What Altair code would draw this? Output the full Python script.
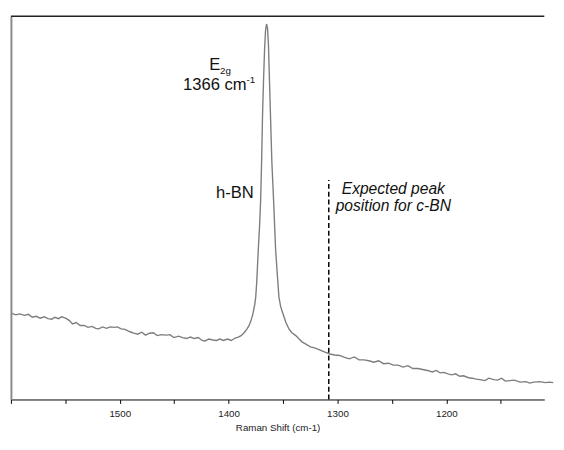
import altair as alt
import pandas as pd

# Raman spectrum (x: Raman shift in cm-1, y: intensity in arbitrary units)
shift = [
    1599.1, 1595.5, 1591.9, 1587.5, 1583.9, 1580.3, 1576.7, 1573.1, 1569.5, 1565.9,
    1562.4, 1559.7, 1556.1, 1553.4, 1549.8, 1546.2, 1543.5, 1540.0, 1536.4, 1532.8,
    1529.2, 1525.6, 1522.0, 1519.4, 1515.8, 1512.2, 1508.6, 1505.0, 1502.3, 1498.7,
    1495.2, 1490.7, 1487.1, 1483.5, 1479.9, 1476.3, 1472.8, 1469.2, 1465.6, 1462.0,
    1457.5, 1453.9, 1450.4, 1445.9, 1442.3, 1438.7, 1435.1, 1431.5, 1427.9, 1424.4,
    1421.7, 1418.1, 1414.5, 1410.9, 1408.2, 1404.6, 1401.1, 1397.5, 1393.9, 1391.2,
    1388.5, 1385.8, 1383.1, 1381.4, 1379.6, 1377.8, 1376.0, 1375.1, 1374.2, 1372.7,
    1371.5, 1370.6, 1369.7, 1368.8, 1367.9, 1367.0, 1366.1, 1365.2, 1364.3, 1363.4,
    1362.5, 1361.6, 1360.3, 1358.7, 1357.8, 1356.9, 1355.4, 1353.8, 1352.2, 1350.3,
    1347.3, 1344.6, 1341.9, 1338.3, 1335.7, 1332.3, 1329.4, 1324.9, 1320.4, 1315.9,
    1311.5, 1307.0, 1302.5, 1298.0, 1293.5, 1289.1, 1284.6, 1280.1, 1275.6, 1271.1,
    1266.7, 1262.2, 1257.7, 1253.2, 1248.7, 1244.2, 1239.8, 1235.3, 1230.8, 1226.3,
    1221.8, 1217.4, 1212.9, 1209.3, 1205.7, 1202.1, 1198.5, 1195.0, 1191.4, 1187.8,
    1184.2, 1179.7, 1176.1, 1172.6, 1169.0, 1164.5, 1160.9, 1156.4, 1152.8, 1149.3,
    1145.7, 1142.1, 1137.6, 1132.2, 1126.9, 1123.3, 1119.7, 1114.3, 1108.9, 1105.3,
    1101.8,
]
intensity = [
    89.0, 87.5, 88.5, 87.0, 88.0, 85.0, 86.0, 84.0, 85.5, 83.5,
    83.0, 85.0, 83.5, 85.5, 84.0, 81.5, 78.0, 79.5, 76.5, 76.5,
    74.5, 75.5, 73.5, 73.0, 75.0, 73.5, 75.0, 74.5, 75.0, 73.0,
    72.5, 70.0, 68.5, 67.5, 69.5, 66.5, 68.5, 69.0, 66.0, 67.0,
    66.5, 67.0, 64.0, 65.5, 64.0, 63.0, 64.5, 63.0, 64.0, 61.0,
    60.5, 62.5, 61.5, 61.0, 62.5, 61.0, 62.5, 61.0, 63.5, 64.5,
    66.0, 69.0, 73.0, 76.0, 81.0, 88.0, 98.0, 106.0, 121.0, 156.0,
    181.0, 206.0, 246.0, 296.0, 331.0, 361.0, 381.0, 388.0, 384.0, 366.0,
    331.0, 296.0, 246.0, 206.0, 181.0, 156.0, 131.0, 106.0, 96.0, 89.3,
    79.3, 73.0, 69.0, 66.0, 63.0, 59.3, 57.5, 54.3, 53.0, 51.0,
    49.0, 47.0, 46.0, 45.5, 43.5, 42.0, 44.0, 41.0, 41.0, 40.0,
    38.5, 40.0, 37.0, 37.5, 35.5, 35.5, 33.5, 35.0, 32.0, 32.0,
    31.0, 30.0, 28.5, 30.0, 27.5, 28.0, 26.5, 25.5, 26.5, 24.0,
    24.5, 22.5, 22.0, 21.0, 20.5, 19.5, 22.0, 20.5, 20.0, 22.0,
    19.0, 19.5, 20.0, 18.0, 18.5, 17.0, 18.0, 18.5, 17.5, 18.0,
    17.5,
]

tick_values = [1600, 1550, 1500, 1450, 1400, 1350, 1300, 1250, 1200, 1150]

cbn_shift = [1308]
cbn_top = [226.7]

# annotation anchors (data coordinates)
label_text = ["E", "1366 cm", "h-BN"]
label_shift = [1412.7, 1412.7, 1394.3]
label_int = [345.6, 324.5, 213.6]

small_text = ["2g", "-1"]
small_shift = [1402.9, 1379.6]
small_int = [339.6, 330.5]

italic_text = ["Expected peak", "position for c-BN"]
italic_shift = [1248.7, 1248.7]
italic_int = [217.6, 199.5]

W, H = 547, 393
FONT = "Liberation Sans"

df = pd.DataFrame({"shift": shift, "intensity": intensity})
cbn = pd.DataFrame({"shift": cbn_shift, "base": [0] * len(cbn_shift), "top": cbn_top})
ann_big = pd.DataFrame({"shift": label_shift, "intensity": label_int, "label": label_text})
ann_small = pd.DataFrame({"shift": small_shift, "intensity": small_int, "label": small_text})
ann_it = pd.DataFrame({"shift": italic_shift, "intensity": italic_int, "label": italic_text})

xscale = alt.Scale(domain=[1110, 1600], reverse=True, nice=False, zero=False)
yscale = alt.Scale(domain=[0, 396], nice=False, zero=False)

x_axis = alt.Axis(
    values=tick_values,
    format="d",
    labelExpr="datum.value % 100 == 0 && datum.value < 1600 ? datum.label : ''",
    title="Raman Shift (cm-1)",
    titleFont=FONT,
    titleFontSize=10,
    titleFontWeight="normal",
    titleColor="#222222",
    titlePadding=5,
    labelFont=FONT,
    labelFontSize=10,
    labelColor="#222222",
    labelPadding=5,
    domainColor="#000000",
    domainWidth=1,
    tickColor="#000000",
    tickSize=4,
    grid=False,
    labelFlush=False,
)
y_axis = alt.Axis(
    labels=False, ticks=False, title=None, grid=False,
    domainColor="#8a8a8a", domainWidth=2,
)


def xy(xfield="shift:Q", yfield="intensity:Q"):
    return dict(
        x=alt.X(xfield, scale=xscale, axis=x_axis),
        y=alt.Y(yfield, scale=yscale, axis=y_axis),
    )


line = alt.Chart(df).mark_line(color="#7d7d7d", strokeWidth=1.4).encode(**xy())

rule = alt.Chart(cbn).mark_rule(
    color="#000000", strokeWidth=1.5, strokeDash=[5, 3]
).encode(**xy(yfield="base:Q"), y2="top:Q")

frame_top = alt.Chart(pd.DataFrame({"k": [0]})).mark_rule(
    color="#222222", strokeWidth=1.5
).encode(x=alt.value(0), x2=alt.value(W), y=alt.value(0))

text_big = alt.Chart(ann_big).mark_text(
    font=FONT, fontSize=17, color="#111111", align="center", baseline="middle"
).encode(**xy(), text="label:N")

text_small = alt.Chart(ann_small).mark_text(
    font=FONT, fontSize=10, color="#111111", align="center", baseline="middle"
).encode(**xy(), text="label:N")

text_it = alt.Chart(ann_it).mark_text(
    font=FONT, fontSize=16, fontStyle="italic", color="#111111",
    align="center", baseline="middle"
).encode(**xy(), text="label:N")

chart = alt.layer(line, rule, frame_top, text_big, text_small, text_it).properties(
    width=W,
    height=H,
    padding={"left": 1, "top": 2, "right": 0, "bottom": 0},
).configure_view(stroke=None)

chart.save("out.html", embed_options={"renderer": "svg", "actions": False})
